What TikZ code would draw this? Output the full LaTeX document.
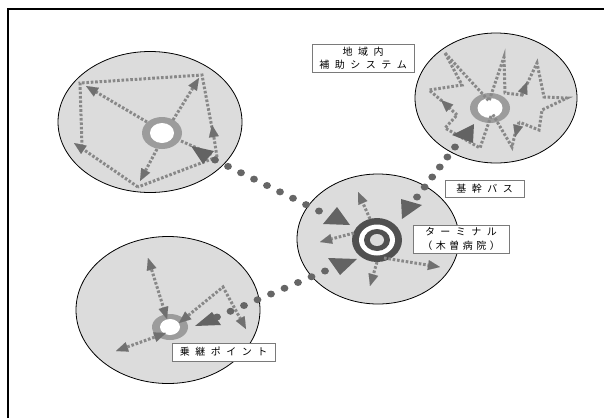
\documentclass[tikz,border=0pt]{standalone}
\usepackage{fontspec}
\newfontfamily\cjk{Noto Sans CJK JP}
\usetikzlibrary{arrows.meta,shapes.geometric,calc}
\definecolor{zonefill}{HTML}{DCDCDC}
\definecolor{dotgrey}{HTML}{888888}
\definecolor{tipgrey}{HTML}{707070}
\definecolor{biggrey}{HTML}{636363}
\definecolor{busgrey}{HTML}{666666}
\definecolor{ringgrey}{HTML}{9C9C9C}
\definecolor{termgrey}{HTML}{505050}
\definecolor{boxgrey}{HTML}{7A7A7A}
\newcommand\lsp{\kern.55em}
\tikzset{
  zone/.style={ellipse, draw=black, line width=0.8pt, fill=zonefill, inner sep=0pt},
  spoke/.style={draw=dotgrey, line width=3pt, dash pattern=on 2.6pt off 1.8pt},
  tp/.tip={Triangle[length=12pt,width=10pt,color=tipgrey,line width=0.01pt]},
  ah/.style={spoke,-tp},
  bothtip/.style={spoke,tp-tp},
  bigtri/.style={fill=biggrey},
  busdot/.style={fill=busgrey},
  lab/.style={draw=boxgrey, fill=white, line width=0.6pt, inner sep=0pt, align=center,
    font={\cjk\fontsize{10}{13.5}\selectfont}},
}
\begin{document}
\begin{tikzpicture}[x=1pt,y=-1pt]
\useasboundingbox (0,0) rectangle (604,418);
% frame
\draw[line width=1.4pt] (8,418) -- (8,9) -- (604,9);
% zones
\node[zone, minimum width=184pt, minimum height=141pt] (tl) at (150,122) {};
\node[zone, minimum width=162pt, minimum height=130pt] (tr) at (496,98) {};
\node[zone, minimum width=162pt, minimum height=130pt] (cz) at (378,239) {};
\node[zone, minimum width=184pt, minimum height=147pt] (bl) at (168,310) {};
% ring centres
\coordinate (tlr) at (162,133);
\coordinate (trr) at (490,108);
\coordinate (cr) at (377,240);
\coordinate (blr) at (170,327);
% rings
\fill[ringgrey] (tlr) ellipse (20pt and 16pt);
\fill[white] (tlr) ellipse (12pt and 10pt);
\fill[ringgrey] (trr) ellipse (20pt and 15pt);
\fill[white] (trr) ellipse (12.5pt and 10pt);
\fill[ringgrey] (blr) ellipse (18pt and 13pt);
\fill[white] (blr) ellipse (10pt and 8pt);
\fill[termgrey] (cr) ellipse (25pt and 22pt);
\fill[white] (cr) ellipse (18pt and 15.5pt);
\fill[termgrey] (cr) ellipse (13pt and 11pt);
\fill[zonefill] (cr) ellipse (7pt and 6pt);
% ---- top-left zone paths
\draw[spoke] (212,128) -- (202,75) -- (80,83) -- (82,147);
\draw[ah] (217,157) -- (212,125);
\draw[spoke] (217,157) -- (138,187);
\draw[ah] (138,187) -- (74,143);
\draw[ah] (147,122) -- (86,86);
\draw[ah] (173,120) -- (199,78);
\draw[ah] (157,149) -- (140,181);
\draw[spoke] (181,141) -- (213,155);
\fill[bigtri] (191,146) -- (214,151) -- (203,164) -- cycle;
% ---- top-right zone paths
\draw[spoke] (445,53) -- (489,101) -- (504,57) -- (505,93) -- (522,95) -- (527,84);
\draw[spoke] (527,84) -- (537,63) -- (544,97) -- (567,98) -- (542,110) -- (539,130) -- (519,122);
\draw[ah] (522,95) -- (527,82);
\draw[spoke] (515,134) -- (512,147) -- (492,113);
\draw[ah] (519,122) -- (515,137);
\draw[spoke] (491,116) -- (480,148) -- (445,128) -- (457,115);
\draw[spoke] (442,101) -- (429,90) -- (462,85) -- (445,53);
\draw[ah] (457,115) -- (441,100);
\fill[bigtri] (452,135) -- (474,124) -- (473,143) -- cycle;
% ---- centre zone paths
\draw[ah] (370,219) -- (358,192);
\draw[ah] (354,233) -- (320,242);
\draw[ah] (377,262) -- (370,286);
\draw[ah] (384,258) -- (440,267);
\fill[bigtri] (337,207) -- (350,225) -- (323,224) -- cycle;
\fill[bigtri] (401,199) -- (422,205) -- (402,219) -- cycle;
\fill[bigtri] (328,258) -- (357,259) -- (340,275) -- cycle;
% ---- bottom-left zone paths
\draw[bothtip] (148,258) -- (167,319);
\draw[bothtip] (116,351) -- (166,333);
\draw[bothtip] (179,323) -- (223,287) -- (246,329);
\fill[bigtri] (195,326) -- (212,312) -- (221,325) -- cycle;
% ---- trunk bus dots
\coordinate (b1a) at (215,160); \coordinate (b1b) at (319,211);
\coordinate (b2a) at (417,197); \coordinate (b2b) at (455,147);
\coordinate (b3a) at (217,317); \coordinate (b3b) at (325,271);
\foreach \i in {0,...,8} \fill[busdot] ($(b1a)!\i/8!(b1b)$) ellipse (3.9pt and 3.5pt);
\foreach \i in {0,...,5} \fill[busdot] ($(b2a)!\i/5!(b2b)$) ellipse (3.9pt and 3.5pt);
\foreach \i in {0,...,8} \fill[busdot] ($(b3a)!\i/8!(b3b)$) ellipse (3.9pt and 3.5pt);
% ---- labels
\node[lab, minimum width=102pt, minimum height=28pt] (lsub) at (363,58) {地\lsp 域\lsp 内\\補\lsp 助\lsp シ\lsp ス\lsp テ\lsp ム};
\node[lab, minimum width=79pt, minimum height=17pt] (lbus) at (484.5,188.5) {基\lsp 幹\lsp バ\lsp ス};
\node[lab, minimum width=96pt, minimum height=28pt] (lterm) at (461,239) {タ\lsp ー\lsp ミ\lsp ナ\lsp ル\\（\kern.35em 木\kern.35em 曽\kern.35em 病\kern.35em 院\kern.35em ）};
\node[lab, minimum width=103pt, minimum height=18pt] (lpt) at (223.5,352) {乗\lsp 継\lsp ポ\lsp イ\lsp ン\lsp ト};
\end{tikzpicture}
\end{document}
